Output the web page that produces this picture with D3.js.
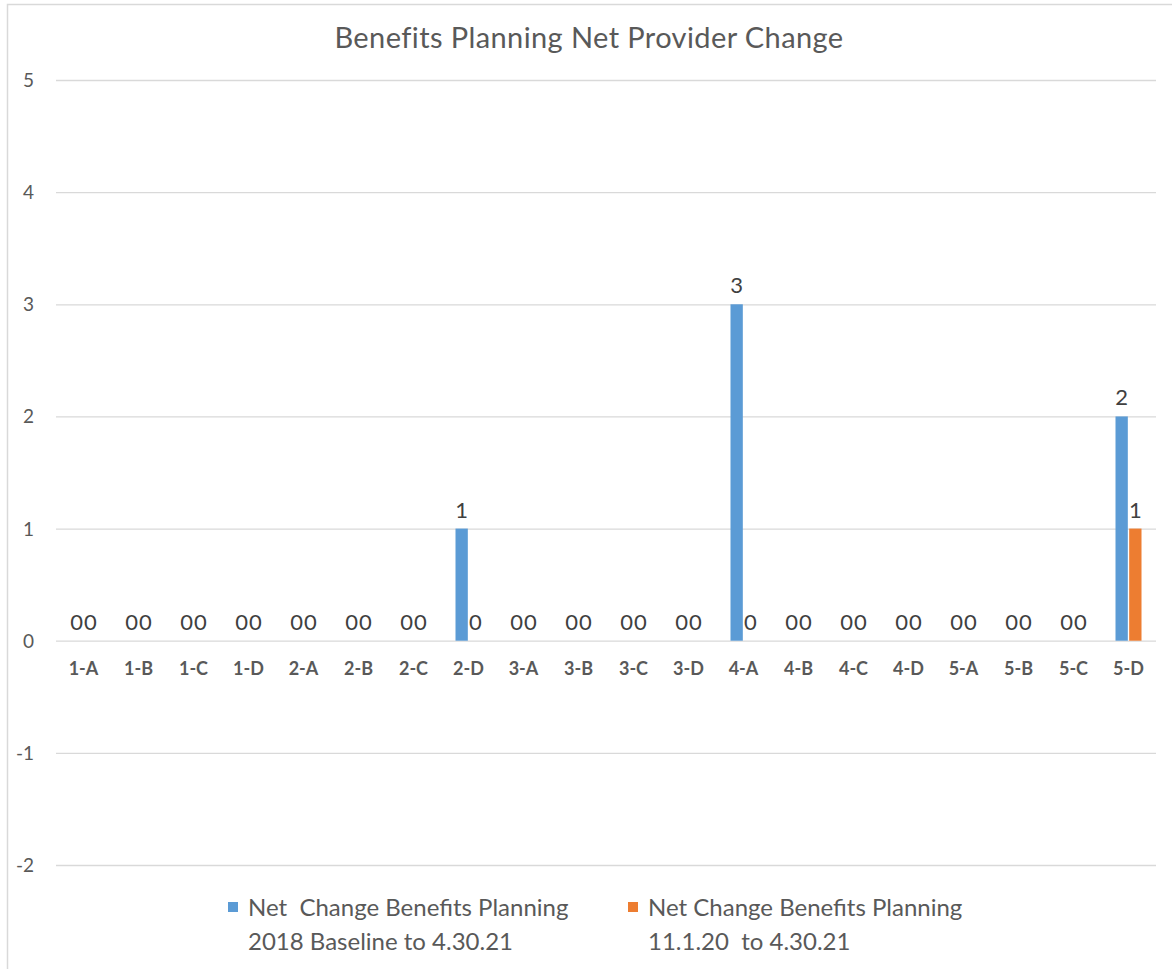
<!DOCTYPE html>
<html>
<head>
<meta charset="utf-8">
<script src="https://cdn.jsdelivr.net/npm/d3@7"></script>
<style>
  body { margin: 0; background: #fff; }
  svg { font-family: Lato, "Open Sans", sans-serif; }
</style>
</head>
<body>
<svg></svg>
<script>
const width = 1172;
const height = 969;

const categories = ['1-A', '1-B', '1-C', '1-D', '2-A', '2-B', '2-C', '2-D', '3-A', '3-B',
    '3-C', '3-D', '4-A', '4-B', '4-C', '4-D', '5-A', '5-B', '5-C', '5-D'];
const seriesNames = ['Net  Change Benefits Planning|2018 Baseline to 4.30.21',
    'Net Change Benefits Planning|11.1.20  to 4.30.21'];
const baselineValues = [0, 0, 0, 0, 0, 0, 0, 1, 0, 0, 0, 0, 3, 0, 0, 0, 0, 0, 0, 2];
const recentValues = [0, 0, 0, 0, 0, 0, 0, 0, 0, 0, 0, 0, 0, 0, 0, 0, 0, 0, 0, 1];
const yTicks = [-2, -1, 0, 1, 2, 3, 4, 5];
const colors = ['#5B9BD5', '#ED7D31'];

const svg = d3.select('svg')
    .attr('width', width)
    .attr('height', height);

// chart area border (right and bottom run off the picture)
svg.append('rect')
    .attr('x', 7.5).attr('y', 4.5)
    .attr('width', 1180).attr('height', 1000)
    .style('fill', 'none')
    .style('stroke', '#D9D9D9')
    .style('stroke-width', 1.5);

svg.append('text')
    .attr('x', 589).attr('y', 48)
    .attr('text-anchor', 'middle')
    .style('font-size', '29px')
    .style('letter-spacing', '0.4px')
    .style('fill', '#595959')
    .text('Benefits Planning Net Provider Change');

const x = d3.scaleBand()
    .domain(categories)
    .range([56, 1156]);

const x1 = d3.scaleBand()
    .domain([0, 1])
    .range([x.bandwidth() / 2 - 13, x.bandwidth() / 2 + 13])
    .paddingInner(0.1);

const y = d3.scaleLinear()
    .domain([-2, 5])
    .range([865, 80]);

const g = svg.append('g');

// gridlines
g.selectAll('.grid')
    .data(yTicks)
    .enter().append('line')
    .attr('x1', 56).attr('x2', 1156)
    .attr('y1', function(d) { return y(d) + 0.5 })
    .attr('y2', function(d) { return y(d) + 0.5 })
    .style('stroke', '#D9D9D9')
    .style('stroke-width', 1.3);

g.selectAll('.ytick')
    .data(yTicks)
    .enter().append('text')
    .attr('x', 34)
    .attr('y', function(d) { return y(d) + 7 })
    .attr('text-anchor', 'end')
    .style('font-size', '19px')
    .style('fill', '#595959')
    .text(function(d) { return d });

g.selectAll('.xtick')
    .data(categories)
    .enter().append('text')
    .attr('x', function(d) { return x(d) + x.bandwidth() / 2 })
    .attr('y', 675)
    .attr('text-anchor', 'middle')
    .style('font-size', '18px')
    .style('font-weight', 'bold')
    .style('fill', '#595959')
    .text(function(d) { return d });

const rows = categories.map(function(c, i) {
    return { cat: c, values: [baselineValues[i], recentValues[i]] };
});

const group = g.selectAll('.grp')
    .data(rows)
    .enter().append('g')
    .attr('transform', function(d) { return `translate(${x(d.cat)},0)` });

group.selectAll('rect')
    .data(function(d) { return d.values })
    .enter().append('rect')
    .attr('x', function(d, i) { return x1(i) })
    .attr('width', x1.bandwidth())
    .attr('y', function(d) { return Math.min(y(d), y(0)) })
    .attr('height', function(d) { return Math.abs(y(d) - y(0)) })
    .style('fill', function(d, i) { return colors[i] });

group.selectAll('.lbl')
    .data(function(d) { return d.values })
    .enter().append('text')
    .attr('x', function(d, i) { return x1(i) + x1.bandwidth() / 2 })
    .attr('y', function(d) { return y(d) - 11 })
    .attr('text-anchor', 'middle')
    .style('font-size', '22px')
    .style('fill', '#404040')
    .text(function(d) { return d });

// legend
const legend = svg.append('g');
const legendX = [228, 628];
seriesNames.forEach(function(name, i) {
    legend.append('rect')
        .attr('x', legendX[i]).attr('y', 902)
        .attr('width', 10).attr('height', 10)
        .style('fill', colors[i]);
    const lines = name.split('|');
    lines.forEach(function(line, j) {
        legend.append('text')
            .attr('x', legendX[i] + 20)
            .attr('y', 916 + j * 34)
            .style('font-size', '24px')
            .style('fill', '#595959')
            .style('white-space', 'pre')
            .attr('xml:space', 'preserve')
            .text(line);
    });
});
</script>
</body>
</html>
